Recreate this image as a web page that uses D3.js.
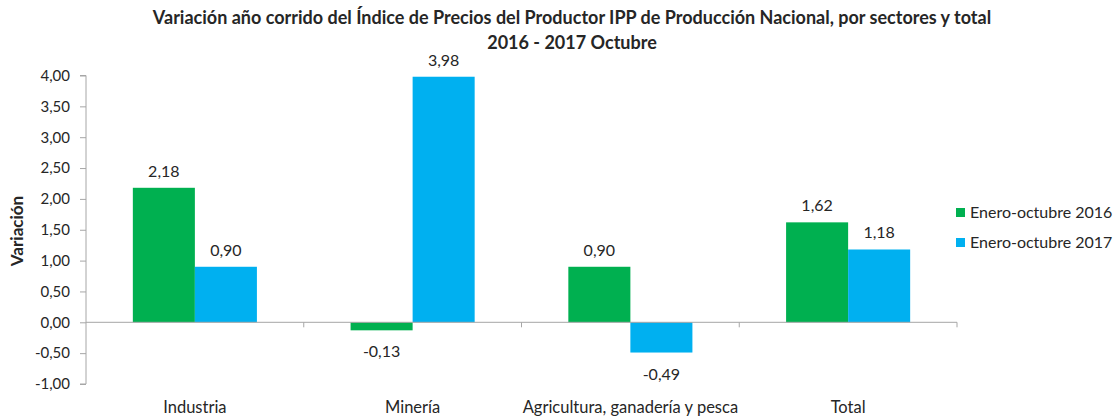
<!DOCTYPE html>
<html>
<head>
<meta charset="utf-8">
<script src="https://cdn.jsdelivr.net/npm/d3@7"></script>
<style>
  body { margin: 0; background: #fff; }
  text { font-family: Lato, "Open Sans", sans-serif; fill: #262626; }
</style>
</head>
<body>
<div id="container"></div>
<script>
/* DATA */
const categories = ["Industria", "Minería", "Agricultura, ganadería y pesca", "Total"];
const seriesNames = ["Enero-octubre 2016", "Enero-octubre 2017"];
const values2016 = [2.18, -0.13, 0.90, 1.62];
const values2017 = [0.90, 3.98, -0.49, 1.18];
const yTicks = [-1, -0.5, 0, 0.5, 1, 1.5, 2, 2.5, 3, 3.5, 4];
const colors = ["#00B050", "#00B0F0"];

/* CONSTANTS */
const width = 1114;
const height = 417;
const plotLeft = 86, plotRight = 957, plotTop = 75.5, plotBottom = 384;
const fmt = v => d3.format(".2f")(v).replace(".", ",").replace("−", "-");

const svg = d3.select("#container")
  .append("svg")
  .attr("width", width)
  .attr("height", height)

/* SCALES */
const xScale = d3.scaleBand()
  .domain(categories)
  .range([plotLeft, plotRight])

const yScale = d3.scaleLinear()
  .domain([-1, 4])
  .range([plotBottom, plotTop])

const xInner = d3.scaleBand()
  .domain(seriesNames)
  .range([0, xScale.bandwidth()])
  .paddingOuter(0.755)
  .paddingInner(0)

const rows = categories.map((c, i) => ({
  category: c,
  vals: [values2016[i], values2017[i]]
}))

/* BARS */
const groups = svg.selectAll("g.cat")
  .data(rows)
  .join("g")
  .attr("class", "cat")
  .attr("transform", d => `translate(${xScale(d.category)},0)`)

groups.selectAll("rect")
  .data(d => d.vals.map((v, j) => ({ v, s: seriesNames[j], j })))
  .join("rect")
  .attr("x", d => xInner(d.s))
  .attr("y", d => yScale(Math.max(0, d.v)))
  .attr("width", xInner.bandwidth())
  .attr("height", d => Math.abs(yScale(d.v) - yScale(0)))
  .attr("fill", d => colors[d.j])

// data labels
groups.selectAll("text.lbl")
  .data(d => d.vals.map((v, j) => ({ v, s: seriesNames[j] })))
  .join("text")
  .attr("class", "lbl")
  .attr("x", d => xInner(d.s) + xInner.bandwidth() / 2)
  .attr("y", d => d.v >= 0 ? yScale(d.v) - 11 : yScale(d.v) + 27)
  .attr("text-anchor", "middle")
  .style("font-size", "16px")
  .text(d => fmt(d.v))

/* AXES */
const yAxis = d3.axisLeft(yScale)
  .tickValues(yTicks)
  .tickSize(6)
  .tickPadding(10)
  .tickFormat(fmt)

const gy = svg.append("g")
  .attr("transform", `translate(${plotLeft},0)`)
  .call(yAxis)
gy.select(".domain").attr("stroke", "#a6a6a6").attr("d", `M-6,${plotTop}H0V${plotBottom}H-6`)
gy.selectAll(".tick line").attr("stroke", "#a6a6a6")
gy.selectAll(".tick text").style("font-size", "15px").attr("fill", "#262626").style("font-family", "Lato, sans-serif")

// x axis at zero, with tick marks between categories
const gx = svg.append("g")
gx.append("line")
  .attr("x1", plotLeft).attr("x2", plotRight)
  .attr("y1", yScale(0)).attr("y2", yScale(0))
  .attr("stroke", "#a6a6a6")
gx.selectAll("line.sep")
  .data(categories)
  .join("line")
  .attr("class", "sep")
  .attr("x1", d => xScale(d) + xScale.bandwidth())
  .attr("x2", d => xScale(d) + xScale.bandwidth())
  .attr("y1", yScale(0)).attr("y2", yScale(0) + 5)
  .attr("stroke", "#a6a6a6")

gx.selectAll("text.cat")
  .data(categories)
  .join("text")
  .attr("class", "cat")
  .attr("x", d => xScale(d) + xScale.bandwidth() / 2)
  .attr("y", 413)
  .attr("text-anchor", "middle")
  .style("font-size", "16.5px")
  .text(d => d)

/* TITLES */
svg.append("text")
  .attr("x", 572).attr("y", 24)
  .attr("text-anchor", "middle")
  .style("font-size", "18px").style("font-weight", "bold")
  .text("Variación año corrido del Índice de Precios del Productor IPP de Producción Nacional, por sectores y total")
svg.append("text")
  .attr("x", 572).attr("y", 49)
  .attr("text-anchor", "middle")
  .style("font-size", "18px").style("font-weight", "bold")
  .text("2016 - 2017 Octubre")

svg.append("text")
  .attr("transform", "translate(23,231) rotate(-90)")
  .attr("text-anchor", "middle")
  .style("font-size", "17px").style("font-weight", "bold")
  .text("Variación")

/* LEGEND */
const legend = svg.selectAll("g.legend")
  .data(seriesNames)
  .join("g")
  .attr("class", "legend")
  .attr("transform", (d, i) => `translate(956,${208 + i * 30})`)
legend.append("rect")
  .attr("width", 9).attr("height", 9)
  .attr("fill", (d, i) => colors[i])
legend.append("text")
  .attr("x", 14).attr("y", 10)
  .style("font-size", "16px")
  .text(d => d)
</script>
</body>
</html>
